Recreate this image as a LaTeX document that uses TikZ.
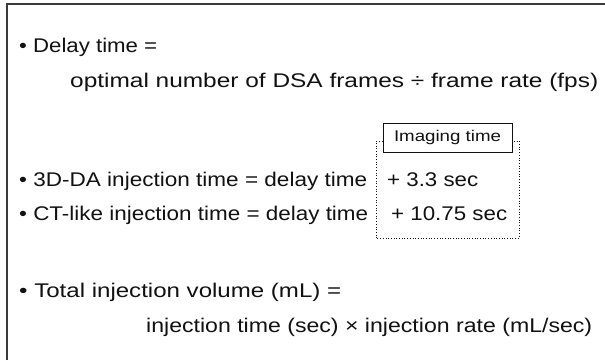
\documentclass[tikz,border=0pt]{standalone}
\usepackage{fontspec}
\setmainfont{Liberation Sans}
\definecolor{ink}{HTML}{111111}
\definecolor{rule}{HTML}{3A3A3A}
% set a line at a given width, keeping its height
\newcommand\fitline[2]{\resizebox{#1}{\height}{#2}}
\begin{document}
\begin{tikzpicture}[x=1pt,y=-1pt,
  txt/.style={anchor=base west,inner sep=0pt,text=ink,font=\fontsize{19.8}{24}\selectfont},
  lbl/.style={draw=ink,line width=0.9pt,minimum width=129pt,minimum height=29pt,inner sep=0pt,fill=white,text=ink,font=\fontsize{15.5}{18}\selectfont},
  imgbox/.style={draw=ink,line width=0.7pt,dotted}]
\useasboundingbox (0,0) rectangle (605,360);
% cropped outer frame: top and left edges only
\draw[rule,line width=1.6pt] (7,360) -- (7,4) -- (605,4);

\node[txt] (l1) at (19,52) {\fitline{138pt}{• Delay time =}};
\node[txt] (l2) at (70,87) {\fitline{528pt}{optimal number of DSA frames ÷ frame rate (fps)}};
\node[txt] (l3) at (19,186) {\fitline{348pt}{• 3D-DA injection time = delay time}};
\node[txt] (l4) at (19,220) {\fitline{349pt}{• CT-like injection time = delay time}};
\node[txt] (a3) at (387,186) {\fitline{91pt}{+ 3.3 sec}};
\node[txt] (a4) at (391,220) {\fitline{116pt}{+ 10.75 sec}};
\node[txt] (l5) at (19,297) {\fitline{322pt}{• Total injection volume (mL) =}};
\node[txt] (l6) at (146,332) {\fitline{446pt}{injection time (sec) × injection rate (mL/sec)}};

% dotted frame around the added imaging times
\coordinate (bl) at (376,238);
\coordinate (tr) at (519,141);
\draw[imgbox] (bl) rectangle (tr);
\node[lbl] (img) at (447.5,137.5) {\fitline{107pt}{Imaging time}};
\end{tikzpicture}
\end{document}
